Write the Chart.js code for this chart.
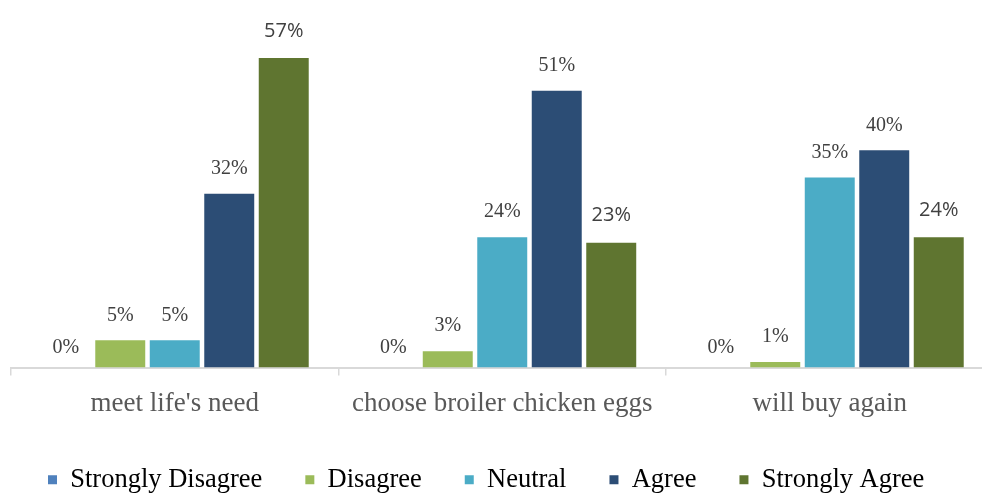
<!DOCTYPE html>
<html>
<head>
<meta charset="utf-8">
<script src="https://cdn.jsdelivr.net/npm/chart.js@4"></script>
<style>
  html, body { margin: 0; padding: 0; background: #fff; overflow: hidden; }
  #wrap { width: 982px; height: 493px; overflow: hidden; }
  #chart { display: block; }
</style>
</head>
<body>
<div id="wrap"><canvas id="chart" width="994" height="493"></canvas></div>
<script>
// survey answers, percent of respondents
const categories = ["meet life's need", "choose broiler chicken eggs", "will buy again"];
const stronglyDisagree = [0, 0, 0];
const disagree = [5, 3, 1];
const neutral = [5, 24, 35];
const agree = [32, 51, 40];
const stronglyAgree = [57, 23, 24];

const seriesNames = ["Strongly Disagree", "Disagree", "Neutral", "Agree", "Strongly Agree"];
const seriesColors = ["#4F81BD", "#9BBB59", "#4BACC6", "#2C4D75", "#5F7530"];
const seriesValues = [stronglyDisagree, disagree, neutral, agree, stronglyAgree];

const serif = "'Liberation Serif', 'Times New Roman', serif";
const sans = "'Open Sans', 'Noto Sans', sans-serif";

// value labels above the bars (last series uses a sans font like the original)
const barLabels = {
  id: "barLabels",
  afterDatasetsDraw(chart) {
    const ctx = chart.ctx;
    ctx.save();
    ctx.textAlign = "center";
    ctx.textBaseline = "middle";
    ctx.fillStyle = "#404040";
    chart.data.datasets.forEach((ds, i) => {
      const isSans = i === 4;
      ctx.font = isSans ? "20px " + sans : "20px " + serif;
      chart.getDatasetMeta(i).data.forEach((bar, j) => {
        const off = ds.data[j] === 0 ? 20 : (isSans ? 27 : 25);
        ctx.fillText(ds.data[j] + "%", bar.x, bar.y - off);
      });
    });
    ctx.restore();
  }
};

new Chart(document.getElementById("chart").getContext("2d"), {
  type: "bar",
  data: {
    labels: categories,
    datasets: seriesNames.map((name, i) => ({
      label: name,
      data: seriesValues[i],
      backgroundColor: seriesColors[i],
      barPercentage: 0.917,
      categoryPercentage: 0.832
    }))
  },
  options: {
    responsive: false,
    animation: false,
    devicePixelRatio: 1,
    layout: { padding: { left: 5, right: 0.5, top: 0, bottom: -10 } },
    plugins: {
      tooltip: { enabled: false },
      legend: {
        position: "bottom",
        align: "start",
        labels: {
          boxWidth: 9,
          boxHeight: 9,
          padding: 43,
          color: "#000",
          font: { family: serif, size: 26.5 }
        }
      }
    },
    scales: {
      x: {
        grid: { display: true, drawOnChartArea: false, drawTicks: true, tickLength: 8, color: "#D9D9D9", lineWidth: 1.5 },
        border: { display: true, color: "#D9D9D9", width: 2 },
        ticks: { color: "#595959", padding: 12, font: { family: serif, size: 27 } },
        afterFit: (s) => { s.height = 56; }
      },
      y: {
        display: true,
        min: 0,
        max: 67.7,
        grid: { display: false },
        border: { display: false },
        ticks: { display: false },
        afterFit: (s) => { s.width = 6; }
      }
    }
  },
  plugins: [barLabels]
});
</script>
</body>
</html>
